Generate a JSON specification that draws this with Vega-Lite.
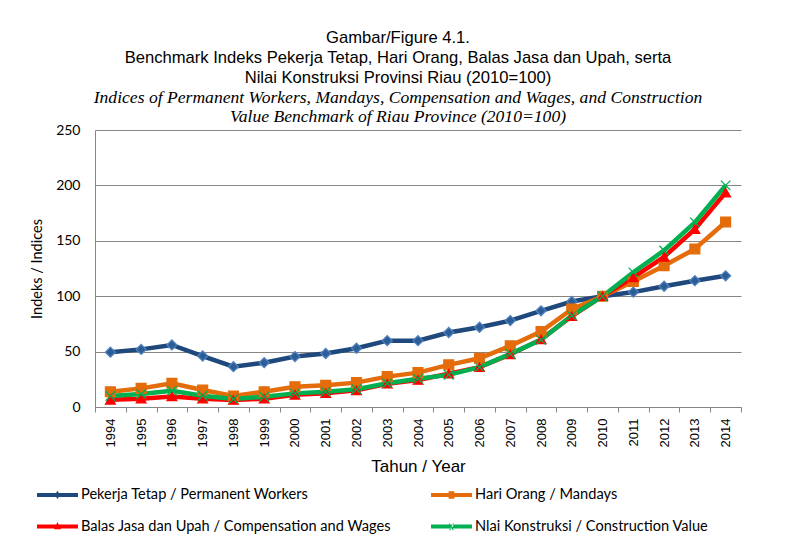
{
  "$schema": "https://vega.github.io/schema/vega-lite/v6.json",
  "width": 646,
  "height": 277,
  "autosize": {"type": "none"},
  "padding": {"left": 95, "top": 130, "right": 52, "bottom": 130},
  "background": "white",
  "title": {
    "text": ["Gambar/Figure 4.1.", "Benchmark Indeks Pekerja Tetap, Hari Orang, Balas Jasa dan Upah, serta", "Nilai Konstruksi Provinsi Riau (2010=100)"],
    "subtitle": ["Indices of Permanent Workers, Mandays, Compensation and Wages, and Construction", "Value Benchmark of Riau Province (2010=100)"],
    "anchor": "middle",
    "frame": "group",
    "dx": -20,
    "offset": -3,
    "font": "Liberation Sans",
    "fontSize": 16.6,
    "fontWeight": "normal",
    "color": "black",
    "lineHeight": 20,
    "subtitleFont": "Liberation Serif",
    "subtitleFontStyle": "italic",
    "subtitleFontSize": 17.6,
    "subtitleColor": "black",
    "subtitleLineHeight": 19.5,
    "subtitlePadding": 2
  },
  "data": {
    "values": [
      {"year": 1994, "Pekerja Tetap / Permanent Workers": 49.5, "Hari Orang / Mandays": 13.8, "Balas Jasa dan Upah / Compensation and Wages": 6.5, "Nlai Konstruksi / Construction Value": 9.9},
      {"year": 1995, "Pekerja Tetap / Permanent Workers": 52, "Hari Orang / Mandays": 16.8, "Balas Jasa dan Upah / Compensation and Wages": 7.5, "Nlai Konstruksi / Construction Value": 11.7},
      {"year": 1996, "Pekerja Tetap / Permanent Workers": 56, "Hari Orang / Mandays": 21.4, "Balas Jasa dan Upah / Compensation and Wages": 9.5, "Nlai Konstruksi / Construction Value": 14.7},
      {"year": 1997, "Pekerja Tetap / Permanent Workers": 46, "Hari Orang / Mandays": 15.3, "Balas Jasa dan Upah / Compensation and Wages": 7.5, "Nlai Konstruksi / Construction Value": 10.2},
      {"year": 1998, "Pekerja Tetap / Permanent Workers": 36.4, "Hari Orang / Mandays": 9.9, "Balas Jasa dan Upah / Compensation and Wages": 6.3, "Nlai Konstruksi / Construction Value": 7.2},
      {"year": 1999, "Pekerja Tetap / Permanent Workers": 40, "Hari Orang / Mandays": 13.8, "Balas Jasa dan Upah / Compensation and Wages": 7.5, "Nlai Konstruksi / Construction Value": 9.3},
      {"year": 2000, "Pekerja Tetap / Permanent Workers": 45.5, "Hari Orang / Mandays": 18.3, "Balas Jasa dan Upah / Compensation and Wages": 11, "Nlai Konstruksi / Construction Value": 12.3},
      {"year": 2001, "Pekerja Tetap / Permanent Workers": 48.3, "Hari Orang / Mandays": 19.6, "Balas Jasa dan Upah / Compensation and Wages": 12.5, "Nlai Konstruksi / Construction Value": 13.8},
      {"year": 2002, "Pekerja Tetap / Permanent Workers": 53, "Hari Orang / Mandays": 22, "Balas Jasa dan Upah / Compensation and Wages": 15, "Nlai Konstruksi / Construction Value": 16},
      {"year": 2003, "Pekerja Tetap / Permanent Workers": 59.9, "Hari Orang / Mandays": 27.4, "Balas Jasa dan Upah / Compensation and Wages": 21, "Nlai Konstruksi / Construction Value": 21.4},
      {"year": 2004, "Pekerja Tetap / Permanent Workers": 59.9, "Hari Orang / Mandays": 31, "Balas Jasa dan Upah / Compensation and Wages": 24.4, "Nlai Konstruksi / Construction Value": 25.5},
      {"year": 2005, "Pekerja Tetap / Permanent Workers": 67.2, "Hari Orang / Mandays": 38, "Balas Jasa dan Upah / Compensation and Wages": 30, "Nlai Konstruksi / Construction Value": 29},
      {"year": 2006, "Pekerja Tetap / Permanent Workers": 72, "Hari Orang / Mandays": 44, "Balas Jasa dan Upah / Compensation and Wages": 36, "Nlai Konstruksi / Construction Value": 36},
      {"year": 2007, "Pekerja Tetap / Permanent Workers": 78, "Hari Orang / Mandays": 55.2, "Balas Jasa dan Upah / Compensation and Wages": 47.5, "Nlai Konstruksi / Construction Value": 48},
      {"year": 2008, "Pekerja Tetap / Permanent Workers": 86.8, "Hari Orang / Mandays": 68, "Balas Jasa dan Upah / Compensation and Wages": 61, "Nlai Konstruksi / Construction Value": 60.6},
      {"year": 2009, "Pekerja Tetap / Permanent Workers": 95.2, "Hari Orang / Mandays": 88.3, "Balas Jasa dan Upah / Compensation and Wages": 82, "Nlai Konstruksi / Construction Value": 82.5},
      {"year": 2010, "Pekerja Tetap / Permanent Workers": 100, "Hari Orang / Mandays": 100, "Balas Jasa dan Upah / Compensation and Wages": 100, "Nlai Konstruksi / Construction Value": 100},
      {"year": 2011, "Pekerja Tetap / Permanent Workers": 103.7, "Hari Orang / Mandays": 113.3, "Balas Jasa dan Upah / Compensation and Wages": 117, "Nlai Konstruksi / Construction Value": 121.5},
      {"year": 2012, "Pekerja Tetap / Permanent Workers": 109, "Hari Orang / Mandays": 127.5, "Balas Jasa dan Upah / Compensation and Wages": 135.5, "Nlai Konstruksi / Construction Value": 141.3},
      {"year": 2013, "Pekerja Tetap / Permanent Workers": 114, "Hari Orang / Mandays": 142.6, "Balas Jasa dan Upah / Compensation and Wages": 160.5, "Nlai Konstruksi / Construction Value": 166.6},
      {"year": 2014, "Pekerja Tetap / Permanent Workers": 118.4, "Hari Orang / Mandays": 167, "Balas Jasa dan Upah / Compensation and Wages": 193.5, "Nlai Konstruksi / Construction Value": 200}
    ]
  },
  "transform": [
    {"fold": ["Pekerja Tetap / Permanent Workers", "Hari Orang / Mandays", "Balas Jasa dan Upah / Compensation and Wages", "Nlai Konstruksi / Construction Value"], "as": ["series", "value"]}
  ],
  "encoding": {
    "x": {
      "field": "year",
      "type": "ordinal",
      "scale": {"type": "band", "paddingInner": 0, "paddingOuter": 0},
      "axis": {
        "title": "Tahun / Year",
        "labelAngle": 270,
        "tickBand": "extent",
        "tickSize": 5,
        "tickColor": "#868686",
        "domainColor": "#868686",
        "labelFont": "Liberation Sans",
        "labelFontSize": 13,
        "labelColor": "black",
        "labelPadding": 6,
        "titleFont": "Liberation Sans",
        "titleFontSize": 17,
        "titleFontWeight": "normal",
        "titleColor": "black",
        "titlePadding": 12,
        "grid": false
      }
    },
    "y": {
      "field": "value",
      "type": "quantitative",
      "scale": {"domain": [0, 250], "nice": false},
      "axis": {
        "title": "Indeks / Indices",
        "values": [0, 50, 100, 150, 200, 250],
        "grid": true,
        "gridColor": "#868686",
        "gridWidth": 1,
        "domainColor": "#868686",
        "ticks": false,
        "labelPadding": 15,
        "labelFont": "Lato",
        "labelFontSize": 14,
        "labelColor": "black",
        "titleFont": "Lato",
        "titleFontSize": 14.5,
        "titleFontWeight": "normal",
        "titleColor": "black",
        "titlePadding": 11
      }
    }
  },
  "layer": [
    {
      "mark": {"type": "line", "strokeWidth": 4.5},
      "encoding": {
        "color": {
          "field": "series",
          "type": "nominal",
          "scale": {"domain": ["Pekerja Tetap / Permanent Workers", "Hari Orang / Mandays", "Balas Jasa dan Upah / Compensation and Wages", "Nlai Konstruksi / Construction Value"], "range": ["#1F497D", "#E46C0A", "#FF0000", "#00B050"]},
          "legend": null
        }
      }
    },
    {
      "mark": {"type": "point", "filled": true, "opacity": 1, "strokeWidth": 1.3},
      "encoding": {
        "color": {
          "field": "series",
          "type": "nominal",
          "scale": {"domain": ["Pekerja Tetap / Permanent Workers", "Hari Orang / Mandays", "Balas Jasa dan Upah / Compensation and Wages", "Nlai Konstruksi / Construction Value"], "range": ["#2C5D96", "#E46C0A", "#FF0000", "#00B050"]},
          "legend": null
        },
        "stroke": {
          "field": "series",
          "type": "nominal",
          "scale": {"domain": ["Pekerja Tetap / Permanent Workers", "Hari Orang / Mandays", "Balas Jasa dan Upah / Compensation and Wages", "Nlai Konstruksi / Construction Value"], "range": ["#4F81BD", "#E46C0A", "#FF0000", "#00B050"]},
          "legend": null
        },
        "shape": {
          "field": "series",
          "type": "nominal",
          "scale": {"domain": ["Pekerja Tetap / Permanent Workers", "Hari Orang / Mandays", "Balas Jasa dan Upah / Compensation and Wages", "Nlai Konstruksi / Construction Value"], "range": ["diamond", "square", "triangle-up", "M-1,-1L1,1M-1,1L1,-1"]},
          "legend": null
        },
        "size": {
          "field": "series",
          "type": "nominal",
          "scale": {"domain": ["Pekerja Tetap / Permanent Workers", "Hari Orang / Mandays", "Balas Jasa dan Upah / Compensation and Wages", "Nlai Konstruksi / Construction Value"], "range": [100, 90, 80, 64]},
          "legend": null
        }
      }
    },
    {
      "transform": [{"filter": "datum.value < 0"}],
      "mark": {"type": "point", "filled": true, "opacity": 1, "size": 1681, "strokeWidth": 0},
      "encoding": {
        "color": {
          "field": "series",
          "type": "nominal",
          "scale": {"domain": ["Pekerja Tetap / Permanent Workers", "Hari Orang / Mandays", "Balas Jasa dan Upah / Compensation and Wages", "Nlai Konstruksi / Construction Value"], "range": ["#1F497D", "#E46C0A", "#FF0000", "#00B050"]},
          "legend": {"title": null, "orient": "none", "direction": "horizontal", "legendX": -58, "legendY": 344, "columns": 2, "columnPadding": 39, "rowPadding": 4, "symbolSize": 1681, "symbolStrokeWidth": 0, "labelFont": "Lato", "labelFontSize": 14.6, "labelColor": "black", "labelOffset": 3, "labelLimit": 400}
        },
        "shape": {
          "field": "series",
          "type": "nominal",
          "scale": {"domain": ["Pekerja Tetap / Permanent Workers", "Hari Orang / Mandays", "Balas Jasa dan Upah / Compensation and Wages", "Nlai Konstruksi / Construction Value"], "range": ["M-1,-0.1H1V0.1H-1Z M0,-0.2L0.13,0L0,0.2L-0.13,0Z", "M-1,-0.1H1V0.1H-1Z M-0.14,-0.18H0.14V0.18H-0.14Z", "M-1,-0.1H1V0.1H-1Z M0,-0.22L0.17,0.14H-0.17Z", "M-1,-0.1H1V0.1H-1Z M-0.12,-0.18L0.12,0.18L0.06,0.18L-0.12,-0.1Z M0.12,-0.18L-0.12,0.18L-0.06,0.18L0.12,-0.1Z"]},
          "legend": {"title": null, "orient": "none", "direction": "horizontal", "legendX": -58, "legendY": 344, "columns": 2, "columnPadding": 39, "rowPadding": 4, "symbolSize": 1681, "symbolStrokeWidth": 0, "labelFont": "Lato", "labelFontSize": 14.6, "labelColor": "black", "labelOffset": 3, "labelLimit": 400}
        }
      }
    }
  ],
  "resolve": {"scale": {"color": "independent", "shape": "independent", "size": "independent", "stroke": "independent"}},
  "config": {"view": {"stroke": null}}
}
